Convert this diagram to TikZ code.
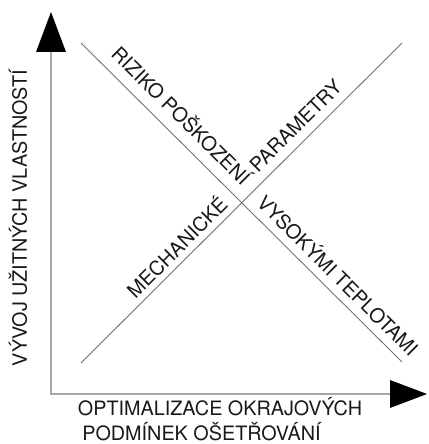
\documentclass[tikz,border=0pt]{standalone}
\usepackage{fontspec}
\setmainfont{TeX Gyre Heros}
\begin{document}
\begin{tikzpicture}[x=1pt,y=1pt,
  axisline/.style={draw=black!35, line width=1.4pt},
  diagline/.style={draw=black!55, line width=0.9pt},
  arrowtri/.style={fill=black, draw=none},
  lbl/.style={font=\fontsize{19.8}{23}\selectfont, inner sep=0pt, text=black!90}]
\useasboundingbox (0,0) rectangle (428,444);
% axes
\coordinate (O) at (51,50);
\coordinate (Ytop) at (51,392);
\coordinate (Xend) at (390,50);
\draw[axisline] (Ytop) -- (O) -- (Xend);
\fill[arrowtri] (36,392) -- (66,392) -- (51,432) -- cycle;
\fill[arrowtri] (390,64) -- (390,36) -- (427,50) -- cycle;
% diagonals
\coordinate (D1) at (81,401);
\coordinate (D2) at (402,82);
\coordinate (A1) at (81,81);
\coordinate (A2) at (402,401);
\draw[diagline] (D1) -- (D2);
\draw[diagline] (A1) -- (A2);
% diagonal labels
\path (D1) -- (D2)
  node[lbl, pos=0.27, sloped, above=11pt] (riz) {RIZIKO POŠKOZENÍ}
  node[lbl, pos=0.765, sloped, above=8pt] (vys) {VYSOKÝMI TEPLOTAMI};
\path (A1) -- (A2)
  node[lbl, pos=0.33, sloped, above=6pt] (mech) {MECHANICKÉ}
  node[lbl, pos=0.705, sloped, above=9pt] (par) {PARAMETRY};
% axis labels
\node[lbl, rotate=90, anchor=base] (ylab) at (27,226) {VÝVOJ UŽITNÝCH VLASTNOSTÍ};
\node[lbl, anchor=base] (xlab1) at (220,28) {OPTIMALIZACE OKRAJOVÝCH};
\node[lbl, anchor=base] (xlab2) at (201.5,3) {PODMÍNEK OŠETŘOVÁNÍ};
\end{tikzpicture}
\end{document}
